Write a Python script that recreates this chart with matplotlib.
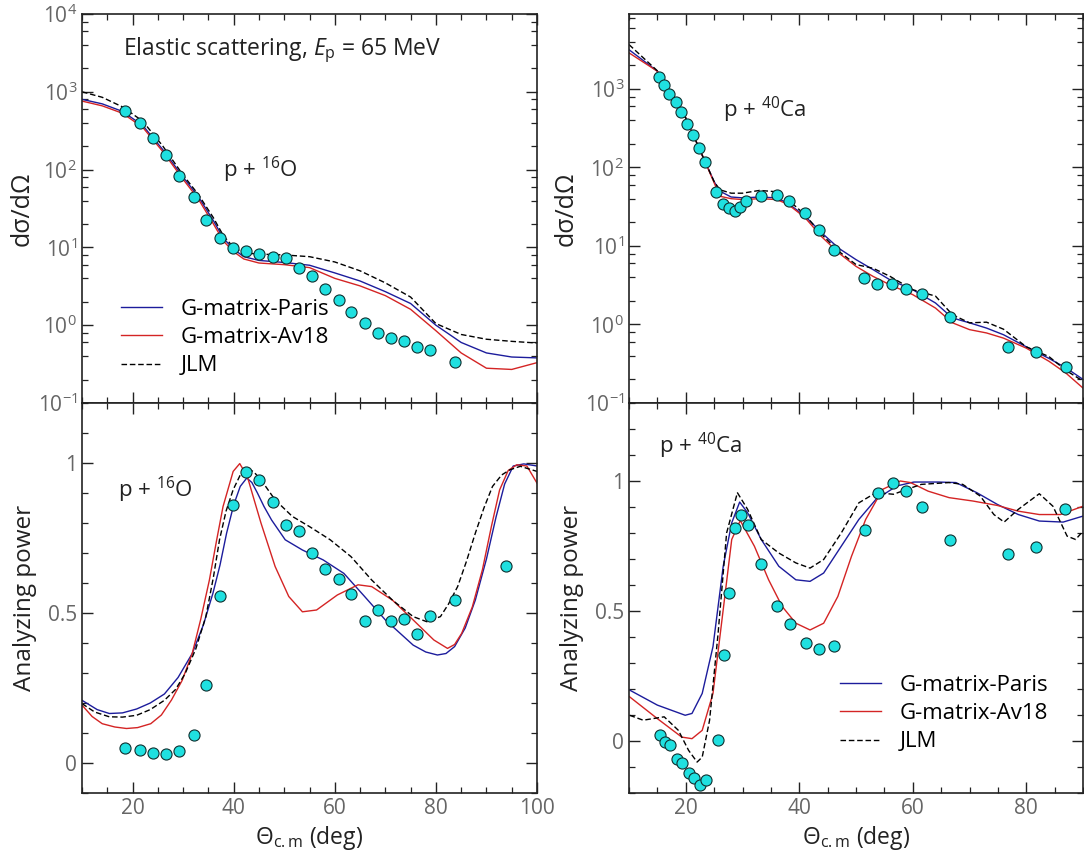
import matplotlib
matplotlib.use("Agg")
import matplotlib.pyplot as plt
from matplotlib import ticker

plt.rcParams["font.family"] = ["Open Sans", "DejaVu Sans"]
plt.rcParams["mathtext.fontset"] = "custom"
plt.rcParams["mathtext.rm"] = "Open Sans"
plt.rcParams["mathtext.it"] = "Open Sans:italic"

# ---- p + 16O cross section ----
o_xs_exp_x = [18.6, 21.5, 24.1, 26.6, 29.2, 32.1, 34.6, 37.2, 39.8, 42.4, 45.1, 47.8, 50.3,
              52.9, 55.5, 58.1, 60.8, 63.3, 65.9, 68.5, 71.1, 73.7, 76.2, 78.8, 83.7]
o_xs_exp_y = [571, 400, 257, 154, 83.5, 45, 22.5, 13.1, 9.75, 9.1, 8.3, 7.6, 7.4,
              5.5, 4.3, 2.9, 2.08, 1.47, 1.08, 0.79, 0.68, 0.63, 0.53, 0.48, 0.34]
o_xs_th_x = [10, 14, 18, 22, 26, 30, 33, 36, 38, 40, 42, 45, 50, 55, 60, 65, 70, 75, 80,
             85, 90, 95, 100]
o_xs_paris = [800, 700, 560, 370, 180, 80, 45, 22, 13, 9.5, 7.6, 6.8, 6.4, 5.9, 4.7, 3.7,
              2.7, 1.9, 1.0, 0.6, 0.44, 0.39, 0.38]
o_xs_av18 = [760, 660, 530, 350, 170, 75, 42, 20, 12, 8.8, 7.1, 6.3, 6.0, 5.5, 4.0, 3.2,
             2.4, 1.6, 0.85, 0.44, 0.28, 0.27, 0.33]
o_xs_jlm = [1000, 850, 640, 420, 200, 85, 48, 24, 14, 10, 8.5, 8.2, 8.0, 7.6, 6.5, 5.0,
            3.5, 2.3, 1.05, 0.76, 0.66, 0.62, 0.59]

# ---- p + 40Ca cross section ----
ca_xs_exp_x = [15.3, 16.1, 17.1, 18.2, 19.2, 20.3, 21.3, 22.4, 23.4, 25.4, 26.6, 27.6, 28.6,
               29.6, 30.7, 33.2, 36.0, 38.2, 41.0, 43.4, 46.1, 51.4, 53.7, 56.4, 58.8,
               61.6, 66.6, 76.8, 81.8, 87.0]
ca_xs_exp_y = [1408, 1136, 871, 676, 509, 361, 262, 177, 116, 48, 34.6, 30.5, 27.6,
               31.4, 37, 43, 44, 37, 26.3, 15.8, 9.0, 3.9, 3.3, 3.3, 2.83,
               2.47, 1.23, 0.52, 0.45, 0.29]
ca_xs_th_x = [10, 15, 20, 23, 25, 26, 28, 30, 33, 36, 38, 41, 44, 47, 50, 53, 56, 60, 64,
              67, 70, 73, 76, 80, 84, 87, 90]
ca_xs_paris = [3160, 1680, 427, 138, 66, 50, 42, 41, 42, 41, 35, 24, 14.6, 9.3, 6.7, 5.0,
               3.7, 2.77, 1.88, 1.21, 1.05, 0.9, 0.74, 0.52, 0.37, 0.28, 0.2]
ca_xs_av18 = [2880, 1680, 427, 138, 64, 43, 40, 39, 40, 39, 34, 23, 13, 8.1, 5.5, 4.1,
              3.2, 2.4, 1.62, 1.05, 0.86, 0.78, 0.67, 0.5, 0.34, 0.24, 0.155]
ca_xs_jlm = [3670, 1700, 427, 138, 66, 52, 47, 47, 51, 49, 39, 25, 13.9, 8.5, 5.8, 5.2,
             4.1, 2.77, 2.3, 1.33, 1.05, 1.07, 0.87, 0.52, 0.39, 0.26, 0.19]

# ---- p + 16O analyzing power ----
o_ay_exp_x = [18.6, 21.4, 24.1, 26.6, 29.2, 32.1, 34.6, 37.2, 39.8, 42.4, 45.1, 47.8, 50.3,
              52.9, 55.5, 58.1, 60.8, 63.3, 65.9, 68.5, 71.1, 73.7, 76.2, 78.8, 83.7, 93.8]
o_ay_exp_y = [0.051, 0.042, 0.035, 0.031, 0.039, 0.092, 0.26, 0.557, 0.86, 0.969, 0.943,
              0.87, 0.795, 0.774, 0.70, 0.647, 0.614, 0.562, 0.474, 0.51, 0.474, 0.479,
              0.43, 0.491, 0.543, 0.657]
o_ay_paris_x = [10, 13, 15.4, 18, 20.8, 23.5, 26.3, 29, 31.8, 34, 35.9, 37.3, 38.6, 40, 41.3,
                42.6, 43.6, 44.7, 46, 47.5, 50.2, 53.6, 57.7, 61.8, 65.9, 70, 75.5, 78,
                80.3, 82, 83.7, 85.8, 87.8, 90, 91.9, 93.6, 95.3, 97.4, 100]
o_ay_paris = [0.209, 0.178, 0.165, 0.167, 0.18, 0.2, 0.23, 0.285, 0.365, 0.46, 0.566, 0.66,
              0.766, 0.86, 0.922, 0.95, 0.935, 0.90, 0.855, 0.81, 0.744, 0.71, 0.677,
              0.632, 0.555, 0.477, 0.393, 0.37, 0.36, 0.365, 0.388, 0.45, 0.543, 0.68,
              0.82, 0.93, 0.99, 0.997, 0.99]
o_ay_av18_x = [10, 12, 14.0, 16.5, 18.8, 21, 23.6, 25.7, 27.7, 29.8, 31.8, 33.5, 35.2, 36.6,
               37.9, 39.9, 41.2, 42.7, 44, 45.4, 48.2, 50.9, 53.6, 56.4, 60.5, 64.6, 67.3,
               71.4, 75.5, 79.6, 82.3, 83.7, 85.1, 87.2, 89.2, 91, 92.6, 94.3, 96, 98, 100]
o_ay_av18 = [0.193, 0.155, 0.131, 0.12, 0.115, 0.118, 0.131, 0.16, 0.21, 0.275, 0.365, 0.48,
             0.61, 0.74, 0.855, 0.972, 0.998, 0.955, 0.88, 0.80, 0.655, 0.555, 0.504, 0.51,
             0.56, 0.594, 0.588, 0.543, 0.477, 0.41, 0.382, 0.395, 0.432, 0.52, 0.644,
             0.79, 0.91, 0.975, 0.994, 0.99, 0.933]
o_ay_jlm_x = [10, 12.5, 15.4, 18, 20.8, 23.5, 26.3, 28.5, 30.4, 32.5, 34.5, 36, 37.2, 38.5,
              39.9, 41.3, 42.7, 44, 45.4, 48.2, 51.6, 55, 59.1, 63.2, 67.3, 71.4, 75.5, 78.2,
              80.9, 82.5, 84.3, 86, 87.8, 89.5, 91.2, 93, 94.6, 96.7, 100]
o_ay_jlm = [0.198, 0.17, 0.154, 0.153, 0.159, 0.178, 0.209, 0.245, 0.298, 0.38, 0.488, 0.62,
            0.744, 0.84, 0.911, 0.96, 0.983, 0.97, 0.944, 0.877, 0.822, 0.788, 0.744, 0.688,
            0.61, 0.543, 0.488, 0.471, 0.488, 0.53, 0.588, 0.67, 0.766, 0.85, 0.922, 0.96,
            0.977, 0.989, 0.972]

# ---- p + 40Ca analyzing power ----
ca_ay_exp_x = [15.4, 16.3, 17.2, 18.4, 19.4, 20.5, 21.4, 22.5, 23.5, 25.6, 26.8, 27.6, 28.7,
               29.7, 30.9, 33.3, 36.1, 38.3, 41.2, 43.5, 46.2, 51.5, 53.8, 56.5, 58.8,
               61.7, 66.6, 76.8, 81.8, 86.9]
ca_ay_exp_y = [0.022, -0.004, -0.017, -0.071, -0.084, -0.124, -0.142, -0.171, -0.149, 0.003,
               0.331, 0.569, 0.82, 0.869, 0.829, 0.681, 0.521, 0.449, 0.376, 0.353, 0.366,
               0.813, 0.955, 0.991, 0.96, 0.901, 0.775, 0.719, 0.745, 0.891]
ca_ay_paris_x = [10.1, 15, 19.9, 21.1, 22.9, 24.8, 26.6, 28.1, 29.5, 30.9, 33.3, 36.4, 39.4,
                 41.9, 44.3, 47.4, 50.5, 53.5, 57.2, 60.2, 64.5, 67.6, 71.3, 74.9, 78.6,
                 82.3, 86.5, 90]
ca_ay_paris = [0.196, 0.138, 0.099, 0.106, 0.183, 0.363, 0.672, 0.839, 0.919, 0.878, 0.775,
               0.672, 0.62, 0.614, 0.646, 0.749, 0.852, 0.929, 0.981, 0.996, 0.996, 0.994,
               0.955, 0.91, 0.871, 0.846, 0.842, 0.865]
ca_ay_av18_x = [10.1, 15, 19.3, 21.1, 22.9, 24.8, 26.6, 28.1, 29.6, 32.1, 34.6, 37, 39.4,
                41.9, 44.3, 46.8, 49.2, 51.7, 54.7, 57.8, 59.6, 62.7, 66.4, 70.6, 74.9,
                78.6, 82.3, 86, 90]
ca_ay_av18 = [0.17, 0.086, 0.015, 0.009, 0.041, 0.183, 0.505, 0.775, 0.848, 0.749, 0.62,
              0.517, 0.453, 0.427, 0.453, 0.556, 0.71, 0.852, 0.968, 1.0, 0.994, 0.961,
              0.936, 0.923, 0.906, 0.884, 0.871, 0.871, 0.903]
ca_ay_jlm_x = [10.1, 12.5, 16.2, 18.7, 20.5, 22, 22.9, 24.2, 25.7, 27.2, 29.1, 30.9, 33.3,
               36.4, 39.4, 41.9, 44.3, 47.4, 50.5, 53.5, 56.6, 59, 61.5, 66.4, 68.8, 71.9,
               74.3, 76.1, 78.6, 82.3, 84.7, 87.2, 88.7, 90]
ca_ay_jlm = [0.099, 0.08, 0.093, 0.041, -0.036, -0.081, -0.062, 0.08, 0.414, 0.80, 0.955,
             0.891, 0.775, 0.723, 0.685, 0.665, 0.698, 0.80, 0.916, 0.955, 0.949, 0.968,
             0.987, 0.994, 0.987, 0.942, 0.871, 0.842, 0.891, 0.951, 0.903, 0.788, 0.775,
             0.807]

BLUE = "#1c1c9c"
RED = "#d42424"
CYAN = "#1fe0e0"
TICKC = "#666666"
TXT = "#222222"

fig = plt.figure(figsize=(10.84, 8.63), dpi=100)
ax_ot = fig.add_axes([82 / 1084, 1 - 403 / 863, 455 / 1084, 389 / 863])
ax_ct = fig.add_axes([629 / 1084, 1 - 403 / 863, 454 / 1084, 389 / 863])
ax_ob = fig.add_axes([82 / 1084, 1 - 793 / 863, 455 / 1084, 390 / 863])
ax_cb = fig.add_axes([629 / 1084, 1 - 793 / 863, 454 / 1084, 390 / 863])


def style(ax):
    ax.tick_params(which="both", direction="in", top=True, right=True,
                   labelsize=15, labelcolor=TICKC, color=TXT)
    ax.tick_params(which="major", length=8, width=1)
    ax.tick_params(which="minor", length=4.5, width=0.9)
    for s in ax.spines.values():
        s.set_linewidth(1.2)
        s.set_color(TXT)


def draw_curves(ax, xp, yp, xa, ya, xj, yj, xe, ye):
    ax.plot(xp, yp, color=BLUE, lw=1.0, label="G-matrix-Paris")
    ax.plot(xa, ya, color=RED, lw=1.0, label="G-matrix-Av18")
    ax.plot(xj, yj, color="black", lw=1.0, ls=(0, (4, 2)), label="JLM")
    ax.plot(xe, ye, "o", color=CYAN, mec="#103030", mew=0.8, ms=8, zorder=5)


# top left
draw_curves(ax_ot, o_xs_th_x, o_xs_paris, o_xs_th_x, o_xs_av18, o_xs_th_x, o_xs_jlm,
            o_xs_exp_x, o_xs_exp_y)
ax_ot.set_yscale("log")
ax_ot.set_ylim(0.1, 1e4)
ax_ot.set_xlim(10, 100)

# top right
draw_curves(ax_ct, ca_xs_th_x, ca_xs_paris, ca_xs_th_x, ca_xs_av18, ca_xs_th_x, ca_xs_jlm,
            ca_xs_exp_x, ca_xs_exp_y)
ax_ct.set_yscale("log")
ax_ct.set_ylim(0.1, 9000)
ax_ct.set_xlim(10, 90)

for ax in (ax_ot, ax_ct):
    ax.yaxis.set_minor_locator(ticker.LogLocator(base=10, subs=(2, 4, 6, 8), numticks=20))
    ax.yaxis.set_minor_formatter(ticker.NullFormatter())
    ax.set_ylabel("dσ/dΩ", fontsize=18, color=TXT)
    ax.tick_params(axis="x", labelbottom=False)

# bottom left
draw_curves(ax_ob, o_ay_paris_x, o_ay_paris, o_ay_av18_x, o_ay_av18, o_ay_jlm_x, o_ay_jlm,
            o_ay_exp_x, o_ay_exp_y)
ax_ob.set_xlim(10, 100)
ax_ob.set_ylim(-0.1, 1.2)

# bottom right
draw_curves(ax_cb, ca_ay_paris_x, ca_ay_paris, ca_ay_av18_x, ca_ay_av18, ca_ay_jlm_x,
            ca_ay_jlm, ca_ay_exp_x, ca_ay_exp_y)
ax_cb.set_xlim(10, 90)
ax_cb.set_ylim(-0.2, 1.3)

for ax in (ax_ob, ax_cb):
    ax.yaxis.set_major_locator(ticker.MultipleLocator(0.5))
    ax.yaxis.set_minor_locator(ticker.MultipleLocator(0.1))
    ax.yaxis.set_major_formatter(ticker.FuncFormatter(lambda v, p: "%g" % round(v, 2)))
    ax.set_ylabel("Analyzing power", fontsize=17.5, color=TXT)
    ax.set_xlabel(r"Θ$_{\mathrm{c.m}}$ (deg)", fontsize=16.5, color=TXT)

for ax in (ax_ot, ax_ct, ax_ob, ax_cb):
    ax.xaxis.set_major_locator(ticker.MultipleLocator(20))
    ax.xaxis.set_minor_locator(ticker.MultipleLocator(5))
    style(ax)

ax_ot.yaxis.set_label_coords(-0.105, 0.5)
ax_ob.yaxis.set_label_coords(-0.098, 0.5)
ax_ct.yaxis.set_label_coords(-0.11, 0.5)
ax_cb.yaxis.set_label_coords(-0.10, 0.5)

# annotations
ax_ot.text(0.09, 0.907, r"Elastic scattering, $E_{\mathrm{p}}$ = 65 MeV",
           transform=ax_ot.transAxes, fontsize=16.5, va="center", color=TXT)
ax_ot.text(0.31, 0.60, r"p + $^{16}$O", transform=ax_ot.transAxes, fontsize=16,
           va="center", color=TXT)
ax_ct.text(0.207, 0.753, r"p + $^{40}$Ca", transform=ax_ct.transAxes, fontsize=16,
           va="center", color=TXT)
ax_ob.text(0.08, 0.777, r"p + $^{16}$O", transform=ax_ob.transAxes, fontsize=16,
           va="center", color=TXT)
ax_cb.text(0.066, 0.89, r"p + $^{40}$Ca", transform=ax_cb.transAxes, fontsize=16,
           va="center", color=TXT)

leg_kw = dict(frameon=False, fontsize=16, handlelength=1.85, handletextpad=0.85,
              labelspacing=0.32, borderaxespad=0)
ax_ot.legend(loc="upper left", bbox_to_anchor=(0.066, 0.29), **leg_kw)
ax_cb.legend(loc="upper left", bbox_to_anchor=(0.445, 0.325), **leg_kw)

fig.savefig("out.png", dpi=100)
